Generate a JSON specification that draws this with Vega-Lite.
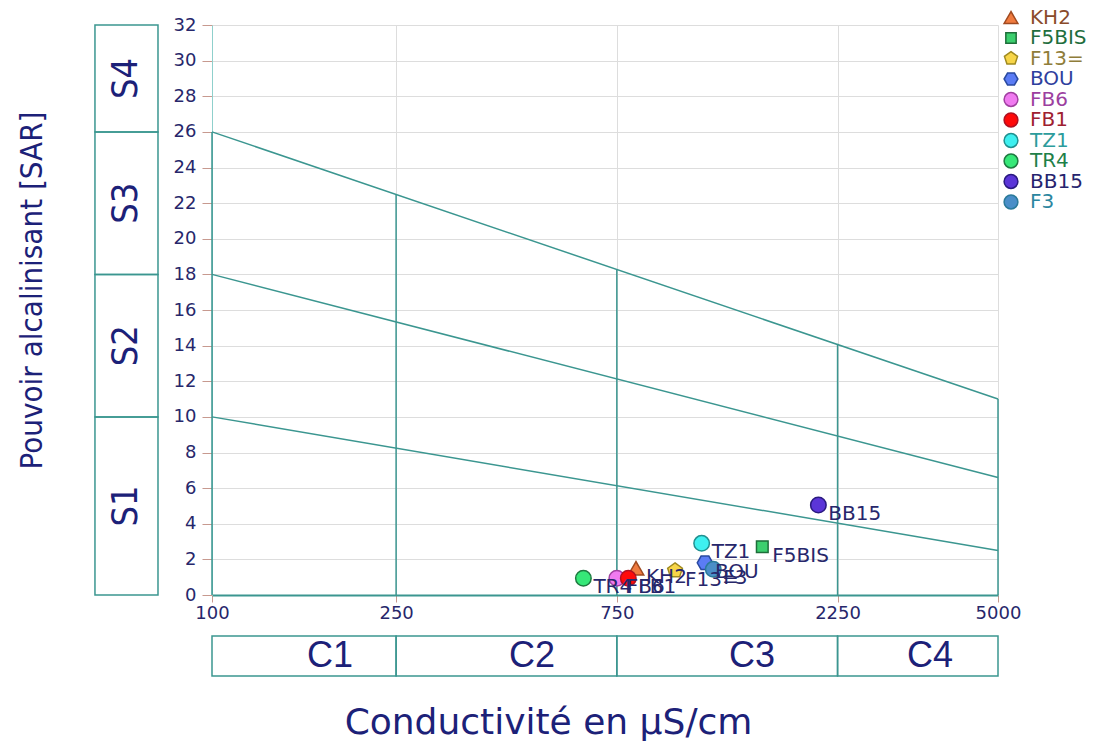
{
  "$schema": "https://vega.github.io/schema/vega-lite/v6.json",
  "width": 786,
  "height": 570,
  "autosize": {"type": "none"},
  "padding": {"left": 212, "top": 25, "right": 108, "bottom": 149},
  "background": "white",
  "config": {"view": {"stroke": null}, "font": "DejaVu Sans"},
  "datasets": {
    "bounds": [
      {"boundary": "S1/S2", "ec": 100, "sar": 10},
      {"boundary": "S1/S2", "ec": 5000, "sar": 2.5},
      {"boundary": "S2/S3", "ec": 100, "sar": 18},
      {"boundary": "S2/S3", "ec": 5000, "sar": 6.6},
      {"boundary": "S3/S4", "ec": 100, "sar": 26},
      {"boundary": "S3/S4", "ec": 5000, "sar": 11}
    ],
    "verticals": [
      {"ec": 100, "lo": 0, "hi": 26},
      {"ec": 250, "lo": 0, "hi": 22.5},
      {"ec": 750, "lo": 0, "hi": 18.3},
      {"ec": 2250, "lo": 0, "hi": 14.1},
      {"ec": 5000, "lo": 0, "hi": 11}
    ],
    "sclasses": [
      {"cls": "S1", "lo": 0, "hi": 10, "mid": 5},
      {"cls": "S2", "lo": 10, "hi": 18, "mid": 14},
      {"cls": "S3", "lo": 18, "hi": 26, "mid": 22},
      {"cls": "S4", "lo": 26, "hi": 32, "mid": 29}
    ],
    "cclasses": [
      {"cls": "C1", "lo": 100, "hi": 250, "mid": 180},
      {"cls": "C2", "lo": 250, "hi": 750, "mid": 492},
      {"cls": "C3", "lo": 750, "hi": 2250, "mid": 1470},
      {"cls": "C4", "lo": 2250, "hi": 5000, "mid": 3565}
    ],
    "samples": [
      {"name": "KH2", "ec": 825, "sar": 1.5},
      {"name": "F5BIS", "ec": 1547, "sar": 2.71},
      {"name": "F13=", "ec": 1002, "sar": 1.37},
      {"name": "BOU", "ec": 1163, "sar": 1.81},
      {"name": "FB6", "ec": 750, "sar": 0.94},
      {"name": "FB1", "ec": 794, "sar": 0.94},
      {"name": "TZ1", "ec": 1144, "sar": 2.9},
      {"name": "TR4", "ec": 635, "sar": 0.94},
      {"name": "BB15", "ec": 2045, "sar": 5.05},
      {"name": "F3", "ec": 1212, "sar": 1.44}
    ]
  },
  "layer": [
    {
      "data": {"name": "bounds"},
      "mark": {"type": "line", "color": "#3b9690", "strokeWidth": 1.5},
      "encoding": {
        "x": {
          "field": "ec", "type": "quantitative",
          "scale": {"type": "log", "domain": [100, 5000], "nice": false},
          "axis": {
            "values": [100, 250, 750, 2250, 5000], "format": "d", "tickCount": 10,
            "title": "Conductivité en µS/cm",
            "titleFont": "DejaVu Sans", "titleFontSize": 36, "titleFontWeight": "normal",
            "titleColor": "#1c2178", "titleX": 336, "titleY": 127, "titleBaseline": "middle", "titleAlign": "center",
            "labelFont": "DejaVu Sans", "labelFontSize": 18, "labelColor": "#27276b", "labelPadding": 2, "labelFlush": false, "labelOverlap": false,
            "tickColor": "#c7998f", "tickSize": 7,
            "domainColor": "#3b9690", "domainWidth": 2,
            "grid": true, "gridColor": "#dddddd"
          }
        },
        "y": {
          "field": "sar", "type": "quantitative",
          "scale": {"domain": [0, 32], "nice": false, "zero": false},
          "axis": {
            "values": [0, 2, 4, 6, 8, 10, 12, 14, 16, 18, 20, 22, 24, 26, 28, 30, 32], "tickCount": 20,
            "title": "Pouvoir alcalinisant [SAR]",
            "titleFont": "DejaVu Sans Condensed", "titleFontSize": 31, "titleFontWeight": "normal",
            "titleColor": "#1c2178", "titleX": -180, "titleY": 265, "titleAngle": -90, "titleBaseline": "middle", "titleAlign": "center",
            "labelFont": "DejaVu Sans", "labelFontSize": 18, "labelColor": "#27276b", "labelPadding": 6, "labelOverlap": false,
            "tickColor": "#c7998f", "tickSize": 10,
            "domainColor": "#8fd0cc", "domainWidth": 1,
            "grid": true, "gridColor": "#dddddd"
          }
        },
        "detail": {"field": "boundary", "type": "nominal"}
      }
    },
    {
      "data": {"name": "verticals"},
      "mark": {"type": "rule", "color": "#3b9690", "strokeWidth": 1.5},
      "encoding": {
        "x": {"field": "ec", "type": "quantitative"},
        "y": {"field": "lo", "type": "quantitative"},
        "y2": {"field": "hi"}
      }
    },
    {
      "data": {"name": "sclasses"},
      "mark": {"type": "rect", "fill": "transparent", "stroke": "#3b9690", "strokeWidth": 1.5},
      "encoding": {
        "x": {"datum": 55.85, "type": "quantitative"},
        "x2": {"datum": 76.43},
        "y": {"field": "lo", "type": "quantitative"},
        "y2": {"field": "hi"}
      }
    },
    {
      "data": {"name": "sclasses"},
      "mark": {"type": "text", "angle": 270, "align": "center", "baseline": "middle", "font": "DejaVu Sans Condensed", "fontSize": 36, "color": "#1c2178"},
      "encoding": {
        "x": {"datum": 65.3, "type": "quantitative"},
        "y": {"field": "mid", "type": "quantitative"},
        "text": {"field": "cls"}
      }
    },
    {
      "data": {"name": "cclasses"},
      "mark": {"type": "rect", "fill": "transparent", "stroke": "#3b9690", "strokeWidth": 1.5},
      "encoding": {
        "x": {"field": "lo", "type": "quantitative"},
        "x2": {"field": "hi"},
        "y": {"datum": -2.3, "type": "quantitative"},
        "y2": {"datum": -4.55}
      }
    },
    {
      "data": {"name": "cclasses"},
      "mark": {"type": "text", "align": "center", "baseline": "middle", "font": "Liberation Sans, Arial", "fontSize": 36, "color": "#1c2178"},
      "encoding": {
        "x": {"field": "mid", "type": "quantitative"},
        "y": {"datum": -3.45, "type": "quantitative"},
        "text": {"field": "cls"}
      }
    },
    {
      "data": {"name": "samples"},
      "mark": {"type": "point", "filled": true, "size": 240, "strokeWidth": 1.5, "opacity": 1},
      "encoding": {
        "x": {"field": "ec", "type": "quantitative"},
        "y": {"field": "sar", "type": "quantitative"},
        "shape": {
          "field": "name", "type": "nominal",
          "scale": {
            "domain": ["KH2", "F5BIS", "F13=", "BOU", "FB6", "FB1", "TZ1", "TR4", "BB15", "F3"],
            "range": ["triangle-up", "M-0.75,-0.75L0.75,-0.75L0.75,0.75L-0.75,0.75Z", "M0,-1L0.951,-0.309L0.588,0.809L-0.588,0.809L-0.951,-0.309Z", "M-1,0L-0.5,-0.866L0.5,-0.866L1,0L0.5,0.866L-0.5,0.866Z", "circle", "circle", "circle", "circle", "circle", "circle"]
          },
          "legend": {
            "orient": "none", "legendX": 789, "legendY": -17.5, "title": null,
            "symbolSize": 190, "symbolStrokeWidth": 1.5,
            "labelFont": "DejaVu Sans", "labelFontSize": 20, "labelOffset": 9, "rowPadding": 0.5, "labelLimit": 200,
            "labelColor": {"expr": "datum.value === 'KH2' ? '#8a4b2a' : datum.value === 'F5BIS' ? '#1f6e3e' : datum.value === 'F13=' ? '#8f7d3a' : datum.value === 'BOU' ? '#2e3f9e' : datum.value === 'FB6' ? '#9c3fa0' : datum.value === 'FB1' ? '#9e2030' : datum.value === 'TZ1' ? '#2c9c9c' : datum.value === 'TR4' ? '#1e8048' : datum.value === 'BB15' ? '#26246e' : '#2b86a0'"}
          }
        },
        "fill": {
          "field": "name", "type": "nominal",
          "scale": {
            "domain": ["KH2", "F5BIS", "F13=", "BOU", "FB6", "FB1", "TZ1", "TR4", "BB15", "F3"],
            "range": ["#f07b3f", "#3ccf6e", "#f7d548", "#5b7cf5", "#f07af0", "#ff0a0a", "#3ef0f0", "#36e878", "#5b35d8", "#4a8ec8"]
          },
          "legend": {
            "orient": "none", "legendX": 789, "legendY": -17.5, "title": null,
            "symbolSize": 190, "symbolStrokeWidth": 1.5,
            "labelFont": "DejaVu Sans", "labelFontSize": 20, "labelOffset": 9, "rowPadding": 0.5, "labelLimit": 200,
            "labelColor": {"expr": "datum.value === 'KH2' ? '#8a4b2a' : datum.value === 'F5BIS' ? '#1f6e3e' : datum.value === 'F13=' ? '#8f7d3a' : datum.value === 'BOU' ? '#2e3f9e' : datum.value === 'FB6' ? '#9c3fa0' : datum.value === 'FB1' ? '#9e2030' : datum.value === 'TZ1' ? '#2c9c9c' : datum.value === 'TR4' ? '#1e8048' : datum.value === 'BB15' ? '#26246e' : '#2b86a0'"}
          }
        },
        "stroke": {
          "field": "name", "type": "nominal",
          "scale": {
            "domain": ["KH2", "F5BIS", "F13=", "BOU", "FB6", "FB1", "TZ1", "TR4", "BB15", "F3"],
            "range": ["#a04a20", "#1e6e3a", "#a08a20", "#2a4aa0", "#a040a0", "#b01020", "#209090", "#1e7a40", "#2a1a80", "#2a7a9a"]
          }
        }
      }
    },
    {
      "data": {"name": "samples"},
      "mark": {"type": "text", "align": "left", "baseline": "middle", "dx": 10, "dy": 9, "font": "DejaVu Sans", "fontSize": 20, "color": "#27276b"},
      "encoding": {
        "x": {"field": "ec", "type": "quantitative"},
        "y": {"field": "sar", "type": "quantitative"},
        "text": {"field": "name"}
      }
    }
  ]
}
